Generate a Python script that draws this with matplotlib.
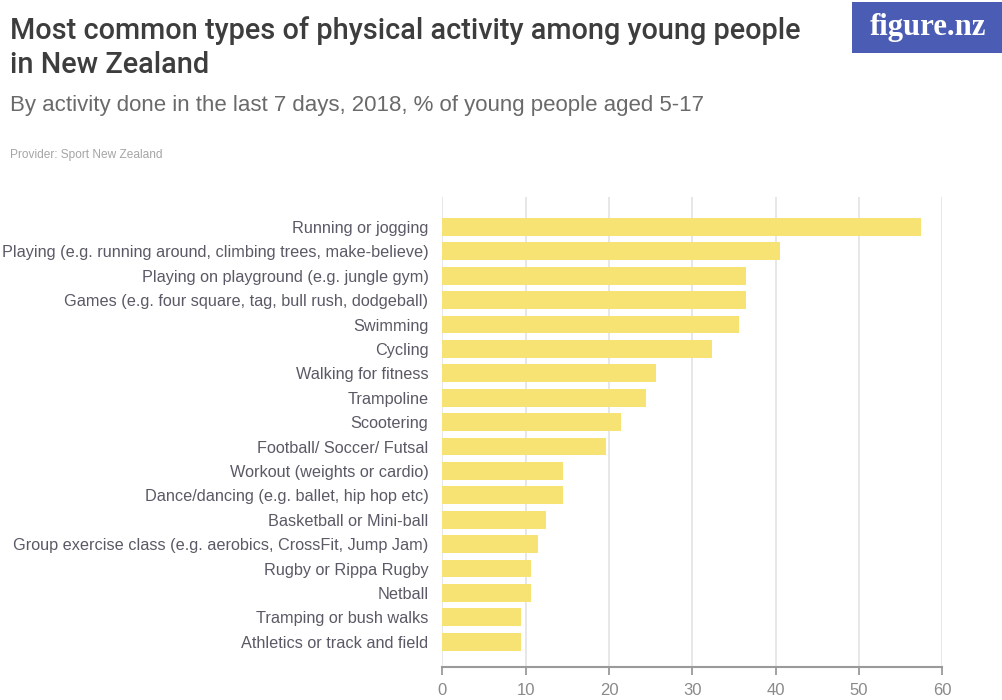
import matplotlib
matplotlib.use("Agg")
import matplotlib.pyplot as plt
from matplotlib.patches import Rectangle

# ---- data ----
activities = [
    "Running or jogging",
    "Playing (e.g. running around, climbing trees, make-believe)",
    "Playing on playground (e.g. jungle gym)",
    "Games (e.g. four square, tag, bull rush, dodgeball)",
    "Swimming",
    "Cycling",
    "Walking for fitness",
    "Trampoline",
    "Scootering",
    "Football/ Soccer/ Futsal",
    "Workout (weights or cardio)",
    "Dance/dancing (e.g. ballet, hip hop etc)",
    "Basketball or Mini-ball",
    "Group exercise class (e.g. aerobics, CrossFit, Jump Jam)",
    "Rugby or Rippa Rugby",
    "Netball",
    "Tramping or bush walks",
    "Athletics or track and field",
]
percent = [57.4, 40.5, 36.4, 36.5, 35.6, 32.4, 25.6, 24.5, 21.5, 19.6,
           14.5, 14.5, 12.5, 11.5, 10.6, 10.6, 9.5, 9.5]
xticks = [0, 10, 20, 30, 40, 50, 60]
xticklabels = ["0", "10", "20", "30", "40", "50", "60"]

title_l1 = "Most common types of physical activity among young people"
title_l2 = "in New Zealand"
subtitle = "By activity done in the last 7 days, 2018, % of young people aged 5-17"
provider = "Provider: Sport New Zealand"
logo_text = "figure.nz"

BODY = ["Liberation Sans Narrow", "Liberation Sans", "DejaVu Sans"]
TITLE = ["Roboto", "Liberation Sans", "DejaVu Sans"]
plt.rcParams["font.family"] = BODY

W, H = 1002, 700
fig = plt.figure(figsize=(W / 100, H / 100), dpi=100)
fig.patch.set_facecolor("white")

ax_l, ax_r, ax_t, ax_b = 442.3, 942.3, 197.0, 667.3
ax = fig.add_axes([ax_l / W, 1 - ax_b / H, (ax_r - ax_l) / W, (ax_b - ax_t) / H])

ypos = list(range(len(activities)))
ax.barh(ypos, percent, height=0.73, color="#f7e374", zorder=2)
ax.set_xlim(0, 60)
ax.set_ylim(len(activities) - 1 + 1.05, -1.23)

ax.set_xticks(xticks)
ax.set_xticklabels(xticklabels)
ax.set_yticks(ypos)
ax.set_yticklabels(activities)

ax.xaxis.grid(True, color="#e3e3e6", linewidth=1.2, zorder=0)
ax.set_axisbelow(True)
for s in ["top", "right", "left"]:
    ax.spines[s].set_visible(False)
ax.spines["bottom"].set_color("#9a9a9a")
ax.spines["bottom"].set_linewidth(1.5)
ax.tick_params(axis="x", direction="out", length=6, width=1.3, color="#9a9a9a",
               labelcolor="#8a8a8a", labelsize=12, pad=5)
ax.tick_params(axis="y", length=0, pad=10, labelcolor="#5a5a66", labelsize=11)

# ---- header texts ----
t1 = fig.text(10 / W, 1 - 31 / H, title_l1, fontsize=18, fontweight="medium",
              family=TITLE, color="#3d3d3d", ha="left", va="center")
t2 = fig.text(10 / W, 1 - 65 / H, title_l2, fontsize=18, fontweight="medium",
              family=TITLE, color="#3d3d3d", ha="left", va="center")
st = fig.text(10 / W, 1 - 106 / H, subtitle, fontsize=15, color="#6a6a6a",
              ha="left", va="center")
pv = fig.text(10 / W, 1 - 155 / H, provider, fontsize=9, color="#a5a5a5",
              ha="left", va="center")

# logo
fig.patches.append(Rectangle((852 / W, 1 - 53 / H), 150 / W, 51 / H,
                             transform=fig.transFigure, facecolor="#4b5cb4",
                             edgecolor="none", zorder=1))
lg = fig.text(928 / W, 1 - 27 / H, logo_text, fontsize=17, color="white",
              family=["Liberation Serif", "DejaVu Serif"], fontweight="bold",
              ha="center", va="center", zorder=2)

# ---- fit text widths to reference ----
fig.canvas.draw()
renderer = fig.canvas.get_renderer()


def fit(t, target):
    w = t.get_window_extent(renderer).width
    t.set_fontsize(t.get_fontsize() * target / w)


fit(t1, 790)
t2.set_fontsize(t1.get_fontsize())
fit(st, 697)
fit(pv, 153)
fit(lg, 117)

labels = ax.get_yticklabels()
maxw = max(l.get_window_extent(renderer).width for l in labels)
ax.tick_params(axis="y", labelsize=11 * 425 / maxw)

fig.savefig("out.png", dpi=100, facecolor="white")
